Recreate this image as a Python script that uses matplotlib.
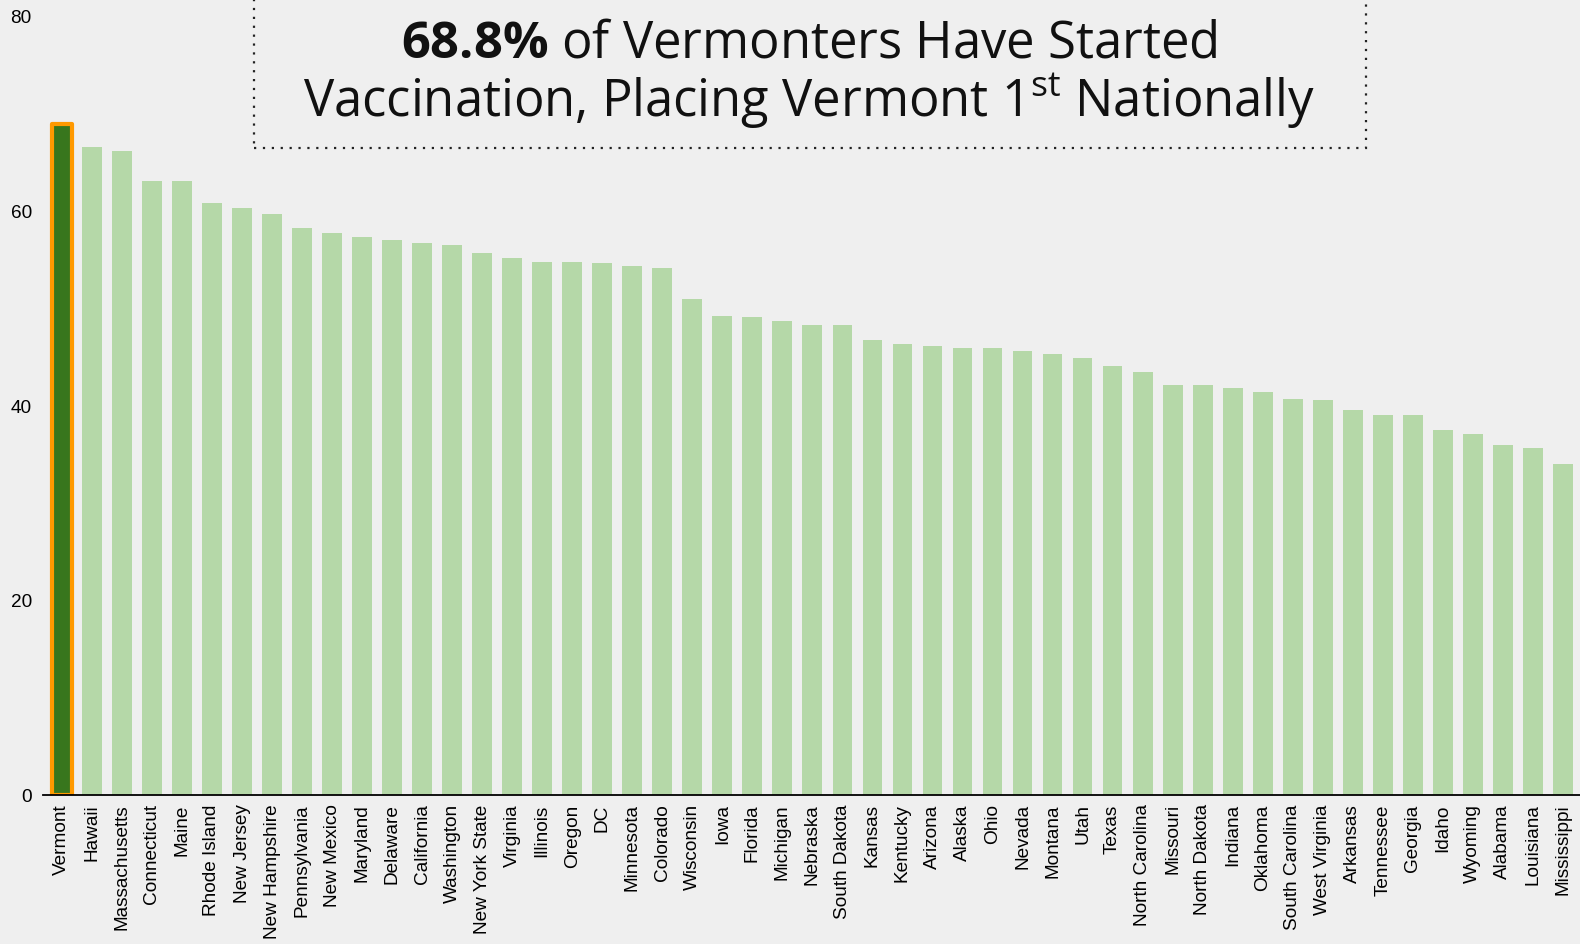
import matplotlib.pyplot as plt
import matplotlib.patches as patches

states = ['Vermont', 'Hawaii', 'Massachusetts', 'Connecticut', 'Maine', 'Rhode Island',
          'New Jersey', 'New Hampshire', 'Pennsylvania', 'New Mexico', 'Maryland',
          'Delaware', 'California', 'Washington', 'New York State', 'Virginia',
          'Illinois', 'Oregon', 'DC', 'Minnesota', 'Colorado', 'Wisconsin', 'Iowa',
          'Florida', 'Michigan', 'Nebraska', 'South Dakota', 'Kansas', 'Kentucky',
          'Arizona', 'Alaska', 'Ohio', 'Nevada', 'Montana', 'Utah', 'Texas',
          'North Carolina', 'Missouri', 'North Dakota', 'Indiana', 'Oklahoma',
          'South Carolina', 'West Virginia', 'Arkansas', 'Tennessee', 'Georgia',
          'Idaho', 'Wyoming', 'Alabama', 'Louisiana', 'Mississippi']
pct_started = [68.8, 66.5, 66.1, 63.0, 63.0, 60.7, 60.2, 59.6, 58.2, 57.6, 57.2,
               56.9, 56.6, 56.4, 55.6, 55.1, 54.7, 54.7, 54.6, 54.3, 54.1, 50.9, 49.1,
               49.0, 48.6, 48.2, 48.2, 46.7, 46.3, 46.1, 45.9, 45.8, 45.5, 45.2, 44.8,
               44.0, 43.4, 42.1, 42.1, 41.7, 41.3, 40.6, 40.5, 39.5, 39.0, 39.0,
               37.4, 37.0, 35.9, 35.6, 33.9]
y_ticks = [0, 20, 40, 60, 80]

bg = '#efefef'
light_green = '#b5d8a8'
dark_green = '#38761d'
orange = '#ff9900'

plt.rcParams['font.family'] = ['Liberation Sans', 'DejaVu Sans']
plt.rcParams['mathtext.fontset'] = 'custom'
plt.rcParams['mathtext.rm'] = 'Open Sans'
plt.rcParams['mathtext.bf'] = 'Open Sans:bold'

fig = plt.figure(figsize=(15.8, 9.45), dpi=100, facecolor=bg)
ax = fig.add_axes([0.0272, 0.1577, 0.9728, 0.8253])
ax.set_facecolor(bg)

x = range(len(states))
colors = [dark_green if s == 'Vermont' else light_green for s in states]
edges = [orange if s == 'Vermont' else light_green for s in states]
widths = [3 if s == 'Vermont' else 0 for s in states]
bars = ax.bar(x, pct_started, width=0.66, color=colors, edgecolor=edges,
              linewidth=widths, zorder=2)
for b in bars:
    b.set_joinstyle('round')

ax.set_xlim(-0.63, len(states) - 0.43)
ax.set_ylim(0, 80)
ax.set_yticks(y_ticks)
ax.set_xticks(list(x))
ax.set_xticklabels(states, rotation=90, fontsize=13.7)
ax.tick_params(axis='y', length=0, labelsize=13.7, pad=8)
ax.tick_params(axis='x', length=0, pad=6)
for side in ['top', 'right', 'left']:
    ax.spines[side].set_visible(False)
ax.spines['bottom'].set_linewidth(1.3)

# title box with dotted border, open at the top
box = patches.Rectangle((254 / 1580, 1 - 149 / 945), (1366 - 254) / 1580, 0.3,
                        transform=fig.transFigure, fill=False, edgecolor='#222222',
                        linewidth=1.6, linestyle=(0, (1, 3)), zorder=5)
fig.patches.append(box)

fig.text(0.512, 1 - 44 / 945, r'$\mathbf{68.8\%}$ of Vermonters Have Started',
         ha='center', va='center', fontsize=36.5, family='Open Sans', color='#111111')
fig.text(0.512, 1 - 101 / 945, r'Vaccination, Placing Vermont 1$^{\mathrm{st}}$ Nationally',
         ha='center', va='center', fontsize=36.5, family='Open Sans', color='#111111')

fig.savefig('out.png', dpi=100, facecolor=bg)
